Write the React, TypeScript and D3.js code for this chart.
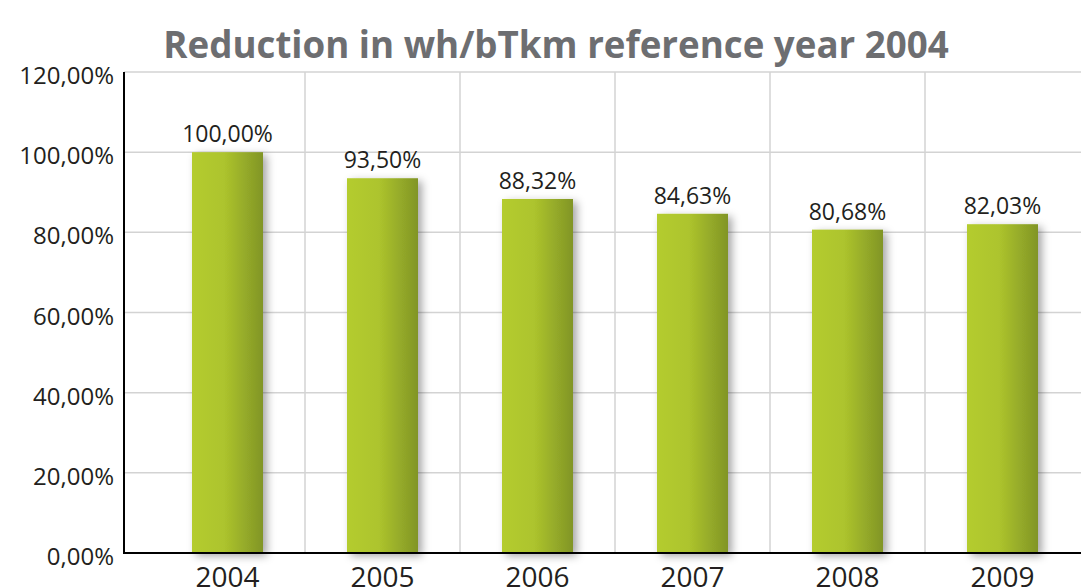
import React, { useEffect, useRef } from "react";
import { select, scaleBand, scaleLinear } from "d3";

const years = ["2004", "2005", "2006", "2007", "2008", "2009"];
const values = [100.0, 93.5, 88.32, 84.63, 80.68, 82.03];
const yTicks = [0, 20, 40, 60, 80, 100, 120];
const title = "Reduction in wh/bTkm reference year 2004";

const WIDTH = 1081;
const HEIGHT = 588;
const FONT = "'Open Sans', 'Noto Sans', sans-serif";

const fmt = (v: number) => v.toFixed(2).replace(".", ",") + "%";

const App = () => {
  const svgRef = useRef<SVGSVGElement>(null);

  useEffect(() => {
    const svg = select(svgRef.current).attr("width", WIDTH).attr("height", HEIGHT);
    svg.selectAll("*").remove();

    const axisX = 124;
    const x = scaleBand().domain(years).range([150, 1080]).paddingInner(0).paddingOuter(0);
    const y = scaleLinear().domain([0, 120]).range([553, 72]);
    const barW = 71;

    const defs = svg.append("defs");
    const grad = defs
      .append("linearGradient")
      .attr("id", "barGrad")
      .attr("x1", "0%")
      .attr("x2", "100%");
    grad.append("stop").attr("offset", "0%").attr("stop-color", "#b4cc2f");
    grad.append("stop").attr("offset", "45%").attr("stop-color", "#adc42d");
    grad.append("stop").attr("offset", "100%").attr("stop-color", "#819526");

    const shadow = defs
      .append("filter")
      .attr("id", "shadow")
      .attr("x", "-30%")
      .attr("y", "-10%")
      .attr("width", "170%")
      .attr("height", "130%");
    shadow
      .append("feDropShadow")
      .attr("dx", 4)
      .attr("dy", 3)
      .attr("stdDeviation", 4)
      .attr("flood-color", "#000")
      .attr("flood-opacity", 0.35);

    // horizontal grid
    svg
      .append("g")
      .selectAll("line")
      .data(yTicks.filter((d) => d > 0))
      .join("line")
      .attr("x1", axisX)
      .attr("x2", WIDTH)
      .attr("y1", (d) => y(d))
      .attr("y2", (d) => y(d))
      .attr("stroke", "#d3d3d3")
      .attr("stroke-width", 1.5);

    // vertical grid between categories
    svg
      .append("g")
      .selectAll("line")
      .data(years.slice(1))
      .join("line")
      .attr("x1", (d) => x(d)!)
      .attr("x2", (d) => x(d)!)
      .attr("y1", y(120))
      .attr("y2", y(0))
      .attr("stroke", "#d3d3d3")
      .attr("stroke-width", 1.5);

    // bars
    svg
      .append("g")
      .selectAll("rect")
      .data(values)
      .join("rect")
      .attr("x", (d, i) => x(years[i])! + x.bandwidth() / 2 - barW / 2)
      .attr("y", (d) => y(d))
      .attr("width", barW)
      .attr("height", (d) => y(0) - y(d))
      .attr("fill", "url(#barGrad)")
      .attr("filter", "url(#shadow)");

    // value labels
    svg
      .append("g")
      .selectAll("text")
      .data(values)
      .join("text")
      .attr("x", (d, i) => x(years[i])! + x.bandwidth() / 2)
      .attr("y", (d) => y(d) - 10)
      .attr("text-anchor", "middle")
      .style("font-family", FONT)
      .style("font-size", "23px")
      .style("fill", "#231f20")
      .text((d) => fmt(d));

    // axes
    svg
      .append("line")
      .attr("x1", axisX)
      .attr("x2", axisX)
      .attr("y1", y(120))
      .attr("y2", y(0) + 1)
      .attr("stroke", "#000")
      .attr("stroke-width", 2);
    svg
      .append("line")
      .attr("x1", axisX)
      .attr("x2", WIDTH)
      .attr("y1", y(0))
      .attr("y2", y(0))
      .attr("stroke", "#000")
      .attr("stroke-width", 2);

    // y tick labels
    svg
      .append("g")
      .selectAll("text")
      .data(yTicks)
      .join("text")
      .attr("x", 114)
      .attr("y", (d) => y(d) + 12)
      .attr("text-anchor", "end")
      .style("font-family", FONT)
      .style("font-size", "24px")
      .style("fill", "#231f20")
      .text((d) => fmt(d));

    // x labels (cut at the bottom edge, as in the original)
    svg
      .append("g")
      .selectAll("text")
      .data(years)
      .join("text")
      .attr("x", (d) => x(d)! + x.bandwidth() / 2)
      .attr("y", 587)
      .attr("text-anchor", "middle")
      .style("font-family", FONT)
      .style("font-size", "28px")
      .style("fill", "#231f20")
      .text((d) => d);

    // title
    svg
      .append("text")
      .attr("x", 556)
      .attr("y", 58)
      .attr("text-anchor", "middle")
      .style("font-family", FONT)
      .style("font-weight", "bold")
      .style("font-size", "36.7px")
      .style("fill", "#6d6e71")
      .text(title);
  }, []);

  return (
    <svg
      ref={svgRef}
      style={{ position: "absolute", left: 0, top: 0, background: "#fff" }}
    ></svg>
  );
};

export default App;
